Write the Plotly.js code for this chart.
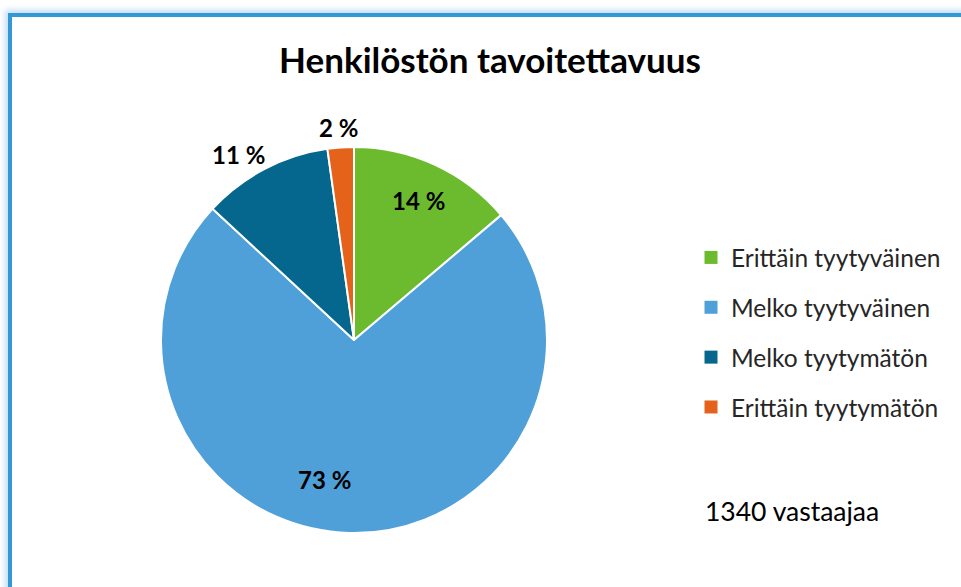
<!DOCTYPE html>
<html>
<head>
<meta charset="utf-8">
<script src="https://cdn.plot.ly/plotly-3.0.1.min.js"></script>
<style>
  html, body { margin: 0; padding: 0; background: #ffffff; overflow: hidden; }
  #chart { position: absolute; left: 0; top: 0; width: 961px; height: 587px; }
  #frame {
    position: absolute; left: 8px; top: 13px; width: 1000px; height: 700px;
    border: 4.5px solid #3399d4; box-shadow: -3px -3px 6px rgba(120,180,230,0.45);
    pointer-events: none; box-sizing: border-box;
  }
</style>
</head>
<body>
<div id="chart"></div>
<div id="frame"></div>
<script>
// ---- data ----
const categories = ["Erittäin tyytyväinen", "Melko tyytyväinen", "Melko tyytymätön", "Erittäin tyytymätön"];
const shares = [13.8, 73.1, 10.9, 2.2];
const shareLabels = ["14 %", "73 %", "11 %", "2 %"];
const titleText = "Henkilöstön tavoitettavuus";
const noteText = "1340 vastaajaa";

// ---- styling ----
const colors = ["#6cbb2f", "#4fa0d8", "#05678e", "#e5621a"];
const W = 961, H = 587;
const FONT = "Lato, 'Open Sans', sans-serif";
const px = x => x / W;
const py = y => 1 - y / H;

// pie geometry (pixels)
const cx = 354, cy = 340, R = 193;

const pie = {
  type: "pie",
  labels: categories,
  values: shares,
  sort: false,
  direction: "clockwise",
  rotation: 0,
  textinfo: "none",
  hoverinfo: "label+percent",
  marker: { colors: colors, line: { color: "#ffffff", width: 2 } },
  domain: { x: [px(cx - R), px(cx + R)], y: [py(cy + R), py(cy - R)] },
  showlegend: false
};

// legend entries (one per category, no data points of their own)
const legendTraces = categories.map((c, i) => ({
  type: "scatter", mode: "markers", x: [null], y: [null],
  name: c, legendgroup: "g" + i,
  marker: { symbol: "square", size: 13, color: colors[i] },
  hoverinfo: "skip"
}));

// label positions (pixels) for slice labels
const labelPos = [[418, 200], [324, 479], [238, 154], [338, 127]];
const annotations = shareLabels.map((t, i) => ({
  text: "<b>" + t + "</b>", x: px(labelPos[i][0]), y: py(labelPos[i][1]),
  xref: "paper", yref: "paper", xanchor: "center", yanchor: "middle",
  showarrow: false, font: { family: FONT, size: 24, color: "#000000" }
}));
annotations.push({
  text: noteText, x: px(703), y: py(511), xref: "paper", yref: "paper",
  xanchor: "left", yanchor: "middle", showarrow: false,
  font: { family: FONT, size: 26.5, color: "#000000" }
});

const layout = {
  width: W, height: H,
  margin: { l: 0, r: 0, t: 0, b: 0 },
  paper_bgcolor: "rgba(0,0,0,0)", plot_bgcolor: "rgba(0,0,0,0)",
  title: {
    text: "<b>" + titleText + "</b>", x: px(490), xanchor: "center",
    y: py(61), yref: "container", yanchor: "middle",
    font: { family: FONT, size: 35, color: "#000000" }
  },
  xaxis: { visible: false }, yaxis: { visible: false },
  showlegend: true,
  legend: {
    x: px(691), xanchor: "left", y: py(235), yanchor: "top",
    font: { family: FONT, size: 24.5, color: "#262626" },
    tracegroupgap: 15, bgcolor: "rgba(0,0,0,0)", itemclick: false
  },
  annotations: annotations
};

Plotly.newPlot("chart", [pie].concat(legendTraces), layout, { displayModeBar: false, staticPlot: true });
</script>
</body>
</html>
